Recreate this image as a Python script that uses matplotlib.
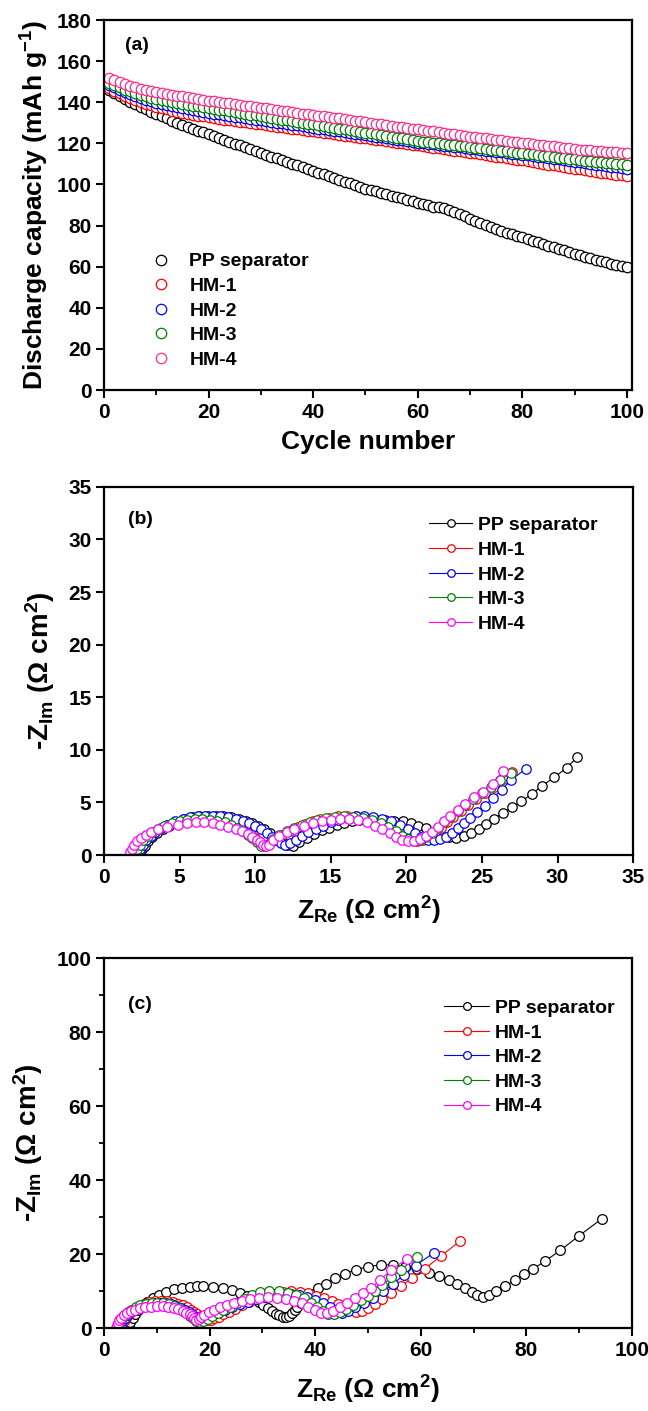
import matplotlib
matplotlib.use('Agg')
import matplotlib.pyplot as plt
from matplotlib.ticker import MultipleLocator

plt.rcParams['font.family'] = ['Liberation Sans', 'DejaVu Sans']
plt.rcParams['font.weight'] = 'bold'
plt.rcParams['mathtext.fontset'] = 'custom'
plt.rcParams['mathtext.rm'] = 'Liberation Sans:bold'
plt.rcParams['mathtext.it'] = 'Liberation Sans:bold'
plt.rcParams['mathtext.bf'] = 'Liberation Sans:bold'

names = ['PP separator', 'HM-1', 'HM-2', 'HM-3', 'HM-4']
colors_a = ['black', 'red', 'blue', '#008000', '#ff2a8c']
colors_bc = ['black', 'red', 'blue', '#008000', '#ff00ff']

# (a) discharge capacity vs cycle
cycles = list(range(1, 101))
cap_pp = [146.0, 144.5, 143.0, 141.5, 140.0, 139.0, 137.8, 136.6, 135.4, 134.3,
          133.2, 132.1, 131.1, 130.1, 129.1, 128.1, 127.1, 126.2, 125.3, 124.4,
          123.5, 122.6, 121.7, 120.8, 119.9, 119.0, 118.1, 117.2, 116.3, 115.4,
          114.5, 113.6, 112.8, 111.9, 111.0, 110.1, 109.3, 108.4, 107.6, 106.7,
          105.8, 105.0, 104.1, 103.2, 102.3, 101.4, 100.6, 99.8, 98.9, 98.0,
          97.3, 96.6, 95.9, 95.2, 94.5, 93.9, 93.3, 92.6, 91.9, 91.2,
          90.5, 89.8, 89.2, 88.8, 88.4, 87.6, 86.6, 85.6, 84.7, 83.3,
          82.2, 81.2, 80.2, 79.3, 78.4, 77.5, 76.6, 75.7, 74.9, 74.2,
          73.4, 72.6, 71.8, 71.0, 70.3, 69.5, 68.7, 67.9, 67.1, 66.4,
          65.6, 64.8, 64.1, 63.4, 62.7, 62.1, 61.5, 60.9, 60.4, 60.0]
cap_hm1 = [147.0, 145.6, 144.3, 143.1, 142.0, 141.0, 140.1, 139.3, 138.5, 137.8,
           137.1, 136.5, 135.9, 135.4, 134.9, 134.4, 133.9, 133.5, 133.1, 132.7,
           132.3, 132.0, 131.6, 131.3, 130.9, 130.6, 130.2, 129.9, 129.5, 129.2,
           128.8, 128.5, 128.2, 127.8, 127.5, 127.1, 126.8, 126.5, 126.1, 125.8,
           125.5, 125.1, 124.8, 124.4, 124.1, 123.8, 123.4, 123.1, 122.7, 122.4,
           122.1, 121.7, 121.4, 121.0, 120.7, 120.4, 120.0, 119.7, 119.3, 119.0,
           118.6, 118.3, 117.9, 117.6, 117.2, 116.9, 116.5, 116.2, 115.8, 115.5,
           115.1, 114.7, 114.4, 114.0, 113.6, 113.3, 112.9, 112.5, 112.1, 111.7,
           111.3, 110.9, 110.5, 110.1, 109.7, 109.3, 108.9, 108.5, 108.1, 107.7,
           107.3, 106.9, 106.5, 106.2, 105.8, 105.5, 105.1, 104.8, 104.4, 104.1]
cap_hm2 = [148.5, 147.2, 145.9, 144.8, 143.8, 142.9, 142.0, 141.2, 140.5, 139.8,
           139.2, 138.6, 138.0, 137.5, 137.0, 136.5, 136.1, 135.7, 135.3, 134.9,
           134.5, 134.1, 133.8, 133.4, 133.0, 132.7, 132.3, 131.9, 131.6, 131.2,
           130.8, 130.5, 130.1, 129.8, 129.4, 129.0, 128.7, 128.3, 128.0, 127.6,
           127.2, 126.9, 126.5, 126.2, 125.8, 125.4, 125.1, 124.7, 124.4, 124.0,
           123.6, 123.3, 122.9, 122.5, 122.2, 121.8, 121.5, 121.1, 120.8, 120.4,
           120.1, 119.8, 119.5, 119.2, 118.9, 118.6, 118.3, 118.0, 117.7, 117.4,
           117.1, 116.8, 116.5, 116.2, 115.9, 115.6, 115.3, 115.0, 114.7, 114.4,
           114.1, 113.8, 113.5, 113.2, 112.9, 112.5, 112.2, 111.8, 111.5, 111.1,
           110.8, 110.4, 110.1, 109.7, 109.4, 109.0, 108.7, 108.3, 108.0, 107.6]
cap_hm3 = [149.5, 148.3, 147.2, 146.2, 145.3, 144.5, 143.7, 143.0, 142.3, 141.7,
           141.1, 140.6, 140.1, 139.6, 139.2, 138.8, 138.4, 138.0, 137.6, 137.2,
           136.8, 136.4, 136.0, 135.6, 135.2, 134.8, 134.4, 134.0, 133.6, 133.2,
           132.8, 132.4, 132.0, 131.6, 131.2, 130.8, 130.4, 130.0, 129.6, 129.2,
           128.8, 128.4, 128.0, 127.6, 127.2, 126.8, 126.4, 126.0, 125.6, 125.2,
           124.8, 124.4, 124.0, 123.6, 123.2, 122.8, 122.4, 122.0, 121.6, 121.2,
           120.9, 120.6, 120.3, 120.0, 119.7, 119.4, 119.1, 118.8, 118.5, 118.2,
           117.9, 117.6, 117.3, 117.0, 116.7, 116.4, 116.1, 115.8, 115.5, 115.2,
           114.9, 114.6, 114.3, 114.0, 113.7, 113.4, 113.1, 112.8, 112.5, 112.2,
           111.9, 111.6, 111.3, 111.0, 110.8, 110.5, 110.3, 110.0, 109.8, 109.5]
cap_hm4 = [152.0, 150.8, 149.7, 148.7, 147.9, 147.2, 146.6, 146.0, 145.5, 145.0,
           144.5, 144.0, 143.6, 143.2, 142.8, 142.4, 142.0, 141.6, 141.2, 140.8,
           140.4, 140.1, 139.7, 139.4, 139.0, 138.7, 138.3, 138.0, 137.6, 137.3,
           137.0, 136.6, 136.3, 135.9, 135.6, 135.2, 134.9, 134.5, 134.2, 133.8,
           133.5, 133.1, 132.8, 132.4, 132.1, 131.7, 131.4, 131.0, 130.7, 130.3,
           130.0, 129.6, 129.3, 128.9, 128.6, 128.2, 127.9, 127.5, 127.2, 126.8,
           126.5, 126.1, 125.8, 125.4, 125.1, 124.7, 124.4, 124.0, 123.7, 123.3,
           123.0, 122.7, 122.4, 122.1, 121.8, 121.5, 121.2, 120.9, 120.6, 120.3,
           120.0, 119.7, 119.4, 119.1, 118.8, 118.5, 118.2, 117.9, 117.6, 117.3,
           117.0, 116.8, 116.6, 116.4, 116.2, 116.0, 115.8, 115.6, 115.4, 115.2]

# (b) EIS before cycling
b_pp_x = [2.3, 2.4, 2.5, 2.7, 2.9, 3.2, 3.5, 3.9, 4.3, 4.8, 5.3, 5.8, 6.3, 6.9, 7.4, 7.9, 8.4, 8.9, 9.4, 9.8,
          10.2, 10.6, 11.0, 11.4, 11.8, 12.1, 12.5, 12.9, 13.4, 13.9, 14.4, 14.9, 15.4, 15.9, 16.4, 16.9,
          17.5, 18.0, 18.6, 19.2, 19.8, 20.3, 20.8, 21.3, 21.8, 22.3, 22.8, 23.3, 23.8, 24.3, 24.8, 25.3,
          25.8, 26.4, 27.0, 27.6, 28.3, 29.0, 29.8, 30.6, 31.3]
b_pp_y = [0.0, 0.3, 0.6, 0.9, 1.3, 1.7, 2.1, 2.5, 2.8, 3.1, 3.4, 3.6, 3.7, 3.75, 3.75, 3.7, 3.6, 3.45, 3.25, 3.0,
          2.75, 2.45, 2.1, 1.7, 1.3, 1.0, 0.9, 1.2, 1.6, 2.0, 2.35, 2.6, 2.85, 3.05, 3.2, 3.3,
          3.35, 3.35, 3.3, 3.25, 3.2, 3.05, 2.8, 2.55, 2.2, 1.9, 1.7, 1.65, 1.8, 2.1, 2.5, 2.95,
          3.45, 4.0, 4.55, 5.1, 5.8, 6.6, 7.4, 8.3, 9.3]
b_hm1_x = [2.2, 2.3, 2.4, 2.6, 2.8, 3.1, 3.4, 3.8, 4.2, 4.7, 5.2, 5.7, 6.2, 6.7, 7.2, 7.7, 8.2, 8.6, 9.0, 9.4,
           9.7, 10.0, 10.3, 10.6, 11.0, 11.4, 11.8, 12.3, 12.8, 13.3, 13.8, 14.3, 14.9, 15.5, 16.1, 16.7,
           17.3, 17.9, 18.5, 19.0, 19.5, 19.9, 20.3, 20.7, 21.1, 21.5, 21.9, 22.3, 22.7, 23.1, 23.6, 24.1,
           24.6, 25.2, 25.8, 26.4, 27.0]
b_hm1_y = [0.0, 0.3, 0.6, 1.0, 1.4, 1.8, 2.2, 2.55, 2.85, 3.1, 3.3, 3.45, 3.5, 3.5, 3.45, 3.35, 3.2, 3.0, 2.7, 2.35,
           2.0, 1.6, 1.2, 0.9, 1.1, 1.5, 1.9, 2.3, 2.65, 2.95, 3.2, 3.4, 3.55, 3.7, 3.75, 3.7,
           3.55, 3.35, 3.05, 2.7, 2.3, 1.9, 1.55, 1.35, 1.4, 1.7, 2.1, 2.6, 3.1, 3.6, 4.2, 4.8,
           5.3, 5.9, 6.5, 7.2, 7.9]
b_hm2_x = [2.2, 2.3, 2.4, 2.6, 2.8, 3.1, 3.4, 3.8, 4.2, 4.7, 5.2, 5.7, 6.2, 6.7, 7.2, 7.7, 8.2, 8.7, 9.2, 9.6,
           10.0, 10.4, 10.8, 11.1, 11.4, 11.7, 12.0, 12.3, 12.7, 13.1, 13.5, 14.0, 14.5, 15.0, 15.5, 16.1,
           16.7, 17.2, 17.8, 18.4, 19.0, 19.6, 20.1, 20.6, 21.0, 21.4, 21.8, 22.2, 22.6, 23.0, 23.4, 23.8,
           24.2, 24.7, 25.2, 25.7, 26.3, 26.9, 27.9]
b_hm2_y = [0.0, 0.3, 0.6, 1.0, 1.4, 1.8, 2.2, 2.6, 2.9, 3.2, 3.45, 3.6, 3.7, 3.75, 3.75, 3.7, 3.6, 3.45, 3.25, 3.0,
           2.75, 2.45, 2.1, 1.75, 1.4, 1.1, 0.95, 1.1, 1.4, 1.8, 2.15, 2.5, 2.8, 3.1, 3.35, 3.55,
           3.7, 3.75, 3.65, 3.45, 3.2, 2.85, 2.45, 2.05, 1.7, 1.45, 1.4, 1.5, 1.75, 2.1, 2.55, 3.0,
           3.55, 4.1, 4.7, 5.4, 6.2, 7.1, 8.2]
b_hm3_x = [2.0, 2.1, 2.2, 2.4, 2.6, 2.9, 3.2, 3.6, 4.0, 4.5, 5.0, 5.5, 6.0, 6.5, 7.0, 7.5, 8.0, 8.4, 8.8, 9.2,
           9.5, 9.8, 10.1, 10.4, 10.8, 11.2, 11.6, 12.1, 12.6, 13.1, 13.6, 14.1, 14.7, 15.3, 15.9, 16.5,
           17.1, 17.7, 18.3, 18.8, 19.3, 19.7, 20.1, 20.5, 20.9, 21.3, 21.7, 22.1, 22.5, 22.9, 23.4, 23.9,
           24.4, 25.0, 25.6, 26.2, 26.9]
b_hm3_y = [0.0, 0.3, 0.6, 1.0, 1.4, 1.8, 2.2, 2.5, 2.8, 3.05, 3.25, 3.35, 3.4, 3.4, 3.35, 3.25, 3.1, 2.9, 2.6, 2.3,
           1.95, 1.6, 1.2, 0.85, 1.0, 1.5, 1.9, 2.3, 2.6, 2.9, 3.15, 3.35, 3.5, 3.65, 3.7, 3.65,
           3.5, 3.3, 3.0, 2.65, 2.25, 1.85, 1.5, 1.3, 1.4, 1.7, 2.1, 2.6, 3.1, 3.6, 4.2, 4.8,
           5.3, 5.9, 6.5, 7.1, 7.8]
b_hm4_x = [1.7, 1.75, 1.85, 2.0, 2.2, 2.45, 2.75, 3.1, 3.6, 4.2, 4.9, 5.5, 6.1, 6.6, 7.2, 7.7, 8.2, 8.7, 9.1, 9.5,
           9.8, 10.1, 10.3, 10.5, 10.7, 10.9, 11.2, 11.6, 12.1, 12.6, 13.2, 13.8, 14.4, 15.0, 15.6, 16.2,
           16.8, 17.4, 17.9, 18.4, 18.9, 19.3, 19.7, 20.1, 20.5, 20.9, 21.3, 21.7, 22.1, 22.5, 22.9, 23.4,
           23.9, 24.5, 25.1, 25.7, 26.4]
b_hm4_y = [0.0, 0.3, 0.6, 0.95, 1.3, 1.65, 1.95, 2.2, 2.45, 2.65, 2.9, 3.05, 3.1, 3.1, 3.05, 2.9, 2.7, 2.5, 2.25, 2.0,
           1.7, 1.4, 1.2, 1.0, 0.85, 1.0, 1.4, 1.8, 2.2, 2.5, 2.8, 3.05, 3.25, 3.35, 3.45, 3.45,
           3.35, 3.15, 2.8, 2.45, 2.1, 1.7, 1.45, 1.3, 1.3, 1.5, 1.8, 2.2, 2.7, 3.2, 3.7, 4.3,
           4.9, 5.5, 6.0, 6.8, 8.0]

# (c) EIS after cycling
c_pp_x = [4.5, 4.7, 5.0, 5.4, 5.9, 6.5, 7.3, 8.2, 9.2, 10.4, 11.8, 13.3, 14.8, 16.3, 17.6, 18.8, 20.7, 22.6,
          24.2, 25.7, 27.1, 28.3, 29.3, 30.2, 31.0, 31.8, 32.5, 33.2, 33.9, 34.5, 35.1, 35.6, 36.1, 36.6,
          37.3, 38.2, 39.3, 40.6, 42.0, 43.7, 45.6, 47.7, 50.0, 52.4, 54.7, 57.0, 59.3, 61.5, 63.5, 65.3,
          66.9, 68.3, 69.6, 70.7, 71.7, 72.9, 74.3, 76.0, 77.8, 79.5, 81.3, 83.5, 86.4, 89.9, 94.3]
c_pp_y = [0.0, 0.8, 1.7, 2.7, 3.7, 4.8, 6.0, 7.1, 8.1, 9.0, 9.8, 10.5, 10.9, 11.2, 11.3, 11.3, 11.2, 10.8,
          10.2, 9.5, 8.8, 8.0, 7.1, 6.2, 5.3, 4.5, 3.9, 3.4, 3.1, 3.0, 3.3, 4.0, 4.8, 5.7,
          6.8, 8.0, 9.3, 10.7, 12.0, 13.4, 14.7, 15.8, 16.6, 17.1, 17.0, 16.6, 15.9, 15.0, 14.0, 13.0,
          11.9, 10.8, 9.8, 8.9, 8.3, 8.9, 10.0, 11.4, 12.9, 14.5, 16.0, 18.1, 21.0, 24.9, 29.6]
c_hm1_x = [3.2, 3.4, 3.7, 4.1, 4.6, 5.2, 5.9, 6.7, 7.6, 8.6, 9.7, 10.8, 11.9, 13.0, 14.0, 14.9, 15.7, 16.4,
           17.1, 17.7, 18.3, 18.9, 19.5, 20.2, 20.9, 21.7, 22.6, 23.6, 24.8, 26.1, 27.5, 29.0, 30.6, 32.2,
           33.8, 35.4, 37.1, 38.7, 40.2, 41.7, 43.1, 44.4, 45.6, 46.7, 47.8, 48.9, 50.0, 51.3, 52.7, 54.3,
           56.2, 58.3, 60.7, 63.9, 67.4]
c_hm1_y = [0.0, 0.9, 1.8, 2.7, 3.6, 4.4, 5.2, 5.9, 6.5, 7.0, 7.3, 7.4, 7.3, 7.0, 6.6, 6.1, 5.6, 5.0,
           4.4, 3.8, 3.2, 2.7, 2.3, 2.3, 2.6, 3.1, 3.7, 4.4, 5.2, 6.1, 7.0, 7.8, 8.6, 9.3,
           9.8, 10.0, 9.8, 9.4, 8.8, 8.1, 7.3, 6.4, 5.5, 4.8, 4.4, 4.6, 5.3, 6.4, 7.8, 9.4,
           11.3, 13.5, 16.0, 19.6, 23.5]
c_hm2_x = [3.0, 3.2, 3.5, 3.9, 4.4, 5.0, 5.7, 6.5, 7.4, 8.4, 9.5, 10.6, 11.7, 12.7, 13.7, 14.6, 15.4, 16.1,
           16.7, 17.3, 17.8, 18.4, 19.1, 19.9, 20.8, 21.8, 23.0, 24.3, 25.7, 27.2, 28.8, 30.4, 32.0, 33.7,
           35.4, 37.0, 38.5, 40.0, 41.4, 42.7, 43.9, 45.0, 46.2, 47.6, 49.3, 51.0, 52.9, 54.8, 56.8, 59.0,
           62.5]
c_hm2_y = [0.0, 0.9, 1.8, 2.7, 3.5, 4.3, 5.0, 5.6, 6.1, 6.5, 6.7, 6.8, 6.7, 6.4, 6.0, 5.5, 4.9, 4.3,
           3.7, 3.1, 2.6, 2.4, 2.6, 3.1, 3.7, 4.3, 5.0, 5.7, 6.4, 7.1, 7.8, 8.4, 8.9, 9.2,
           9.2, 8.9, 8.4, 7.7, 6.8, 5.8, 4.9, 4.2, 4.6, 5.6, 6.7, 8.0, 10.0, 12.0, 14.4, 16.9,
           20.4]
c_hm3_x = [2.5, 2.7, 3.0, 3.4, 3.9, 4.5, 5.2, 6.0, 6.9, 7.9, 9.0, 10.1, 11.2, 12.3, 13.3, 14.2, 15.0, 15.7,
           16.3, 16.9, 17.5, 18.1, 18.8, 19.6, 20.5, 21.5, 22.6, 23.8, 25.1, 26.5, 28.0, 29.6, 31.3, 33.1,
           34.8, 36.4, 37.9, 39.2, 40.4, 41.5, 42.5, 43.6, 44.7, 45.9, 47.2, 48.6, 50.0, 51.3, 52.7, 54.3,
           56.2, 59.3]
c_hm3_y = [0.0, 0.9, 1.8, 2.7, 3.5, 4.3, 5.0, 5.6, 6.1, 6.5, 6.7, 6.8, 6.7, 6.4, 5.9, 5.3, 4.7, 4.0,
           3.3, 2.6, 2.0, 1.7, 1.9, 2.5, 3.2, 4.0, 4.9, 5.8, 6.8, 7.9, 9.0, 9.8, 10.1, 9.9,
           9.5, 8.9, 8.0, 6.9, 5.7, 4.5, 3.7, 3.8, 4.4, 5.2, 6.3, 7.5, 8.7, 10.0, 11.6, 13.7,
           15.8, 19.1]
c_hm4_x = [2.3, 2.4, 2.6, 2.9, 3.3, 3.8, 4.4, 5.1, 5.9, 6.8, 7.8, 8.9, 10.0, 11.1, 12.2, 13.2, 14.1, 14.9,
           15.6, 16.2, 16.7, 17.1, 17.5, 17.9, 18.4, 19.0, 19.8, 20.8, 21.9, 23.2, 24.6, 26.1, 27.7, 29.3,
           31.0, 32.7, 34.4, 36.0, 37.4, 38.7, 39.9, 41.0, 42.2, 43.4, 44.7, 46.1, 47.6, 49.1, 50.6, 52.3,
           54.3, 57.4]
c_hm4_y = [0.0, 0.7, 1.4, 2.1, 2.8, 3.4, 4.0, 4.5, 4.9, 5.3, 5.6, 5.8, 5.9, 5.9, 5.8, 5.5, 5.1, 4.7,
           4.2, 3.7, 3.2, 2.7, 2.3, 2.5, 3.0, 3.6, 4.3, 5.0, 5.6, 6.2, 6.8, 7.3, 7.8, 8.1,
           8.3, 8.2, 7.9, 7.4, 6.7, 5.8, 4.9, 4.1, 4.0, 4.7, 5.7, 6.9, 8.1, 9.4, 10.9, 13.0,
           15.6, 18.8]

fig = plt.figure(figsize=(6.48, 14.11), dpi=100)


def style(ax):
    for s in ax.spines.values():
        s.set_linewidth(1.6)
    ax.tick_params(which='major', direction='out', length=6, width=1.5, labelsize=15,
                   top=False, right=False, pad=3)
    ax.tick_params(which='minor', direction='out', length=3.5, width=1.3, top=False, right=False)
    for lab in ax.get_xticklabels() + ax.get_yticklabels():
        lab.set_fontweight('bold')


# ---- (a)
ax1 = fig.add_axes([0.1605, 0.7236, 0.815, 0.2622])
caps = [cap_pp, cap_hm1, cap_hm2, cap_hm3, cap_hm4]
for c, n, col in zip(caps, names, colors_a):
    ax1.plot(cycles, c, 'o', ms=7.5, mfc='white', mec=col, mew=0.9, label=n)
ax1.set_xlim(0, 101)
ax1.set_ylim(0, 180)
ax1.xaxis.set_major_locator(MultipleLocator(20))
ax1.xaxis.set_minor_locator(MultipleLocator(10))
ax1.yaxis.set_major_locator(MultipleLocator(20))
style(ax1)
ax1.set_xlabel('Cycle number', fontsize=19, fontweight='bold', labelpad=6)
ax1.set_ylabel('Discharge capacity (mAh g$^{-1}$)', fontsize=19, fontweight='bold', labelpad=4)
ax1.text(0.04, 0.93, '(a)', transform=ax1.transAxes, fontsize=14, fontweight='bold', va='center')
ax1.legend(loc='upper left', bbox_to_anchor=(0.075, 0.392), frameon=False, fontsize=14,
           handlelength=1.0, handletextpad=0.95, labelspacing=0.36, borderaxespad=0)

# ---- (b)
ax2 = fig.add_axes([0.1605, 0.394, 0.8165, 0.261])
bx = [b_pp_x, b_hm1_x, b_hm2_x, b_hm3_x, b_hm4_x]
by = [b_pp_y, b_hm1_y, b_hm2_y, b_hm3_y, b_hm4_y]
for x, y, n, col in zip(bx, by, names, colors_bc):
    ax2.plot(x, y, '-o', color=col, lw=0.8, ms=6.8, mfc='white', mec=col, mew=0.9, label=n)
ax2.set_xlim(0, 35)
ax2.set_ylim(0, 35)
ax2.xaxis.set_major_locator(MultipleLocator(5))
ax2.yaxis.set_major_locator(MultipleLocator(5))
style(ax2)
ax2.set_xlabel('Z$_{\\rm Re}$ (Ω cm$^{2}$)', fontsize=19, fontweight='bold', labelpad=6)
ax2.set_ylabel('-Z$_{\\rm Im}$ (Ω cm$^{2}$)', fontsize=20, fontweight='bold', labelpad=8)
ax2.text(0.045, 0.91, '(b)', transform=ax2.transAxes, fontsize=14, fontweight='bold', va='center')
ax2.legend(loc='upper left', bbox_to_anchor=(0.6, 0.94), frameon=False, fontsize=14, markerscale=0.8,
           handlelength=2.2, handletextpad=0.3, labelspacing=0.36, borderaxespad=0)

# ---- (c)
ax3 = fig.add_axes([0.1605, 0.0588, 0.815, 0.262])
cx = [c_pp_x, c_hm1_x, c_hm2_x, c_hm3_x, c_hm4_x]
cy = [c_pp_y, c_hm1_y, c_hm2_y, c_hm3_y, c_hm4_y]
for x, y, n, col in zip(cx, cy, names, colors_bc):
    ax3.plot(x, y, '-o', color=col, lw=0.8, ms=7.0, mfc='white', mec=col, mew=0.9, label=n)
ax3.set_xlim(0, 100)
ax3.set_ylim(0, 100)
ax3.xaxis.set_major_locator(MultipleLocator(20))
ax3.xaxis.set_minor_locator(MultipleLocator(10))
ax3.yaxis.set_major_locator(MultipleLocator(20))
ax3.yaxis.set_minor_locator(MultipleLocator(10))
style(ax3)
ax3.set_xlabel('Z$_{\\rm Re}$ (Ω cm$^{2}$)', fontsize=19, fontweight='bold', labelpad=10)
ax3.set_ylabel('-Z$_{\\rm Im}$ (Ω cm$^{2}$)', fontsize=20, fontweight='bold', labelpad=8)
ax3.text(0.045, 0.875, '(c)', transform=ax3.transAxes, fontsize=14, fontweight='bold', va='center')
ax3.legend(loc='upper left', bbox_to_anchor=(0.63, 0.91), frameon=False, fontsize=14, markerscale=0.8,
           handlelength=2.3, handletextpad=0.3, labelspacing=0.36, borderaxespad=0)

fig.savefig('out.png', dpi=100)
